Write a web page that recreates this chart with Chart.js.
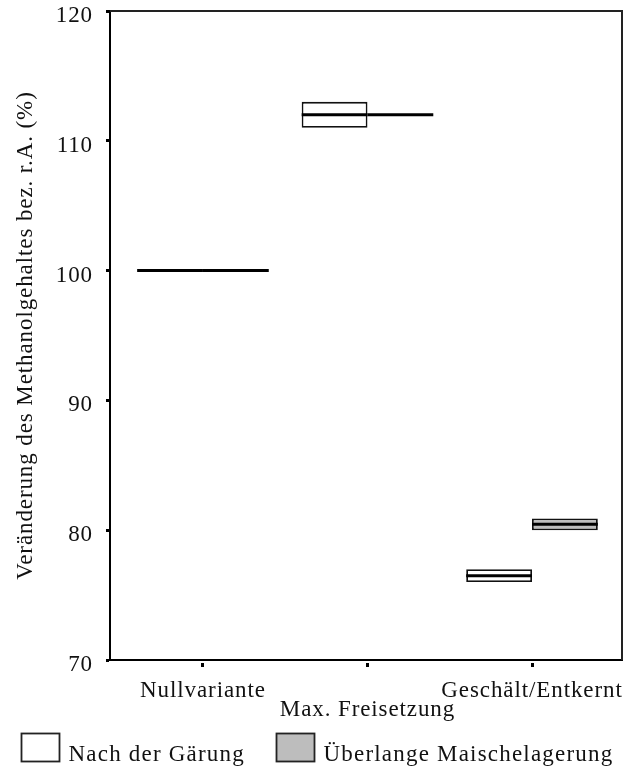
<!DOCTYPE html>
<html lang="de">
<head>
<meta charset="utf-8">
<title>Veränderung des Methanolgehaltes</title>
<script src="https://cdn.jsdelivr.net/npm/chart.js@4/dist/chart.umd.min.js"></script>
<style>
  html, body { margin: 0; padding: 0; background: #fff; }
  canvas { display: block; }
</style>
</head>
<body>
<canvas id="chart" width="624" height="769"></canvas>
<script>
// Versuchsvarianten (x-Achse)
const categories = ['Nullvariante', 'Max. Freisetzung', 'Geschält/Entkernt'];
// Beschriftung der Kategorien; die mittlere steht eine Zeile tiefer
const tickLabels = ['Nullvariante', ['', 'Max. Freisetzung'], 'Geschält/Entkernt'];
const seriesNames = ['Nach der Gärung', 'Überlange Maischelagerung'];

// Box-Grenzen und Mediane (% bezogen auf r.A.)
const gaerungLow = [100, 111, 76];
const gaerungHigh = [100, 113, 77];
const gaerungMedian = [100, 112, 76.5];
const maischeLow = [100, 112, 80];
const maischeHigh = [100, 112, 80.9];
const maischeMedian = [100, 112, 80.45];

const yMin = 70;
const yMax = 120;
const yStep = 10;

const toBoxes = (low, high) => categories.map((c, i) => ({ x: i, y: [low[i], high[i]] }));

const serif = "'Liberation Serif', 'Times New Roman', serif";
const textSize = 23;
Chart.defaults.font.family = serif;
Chart.defaults.font.size = textSize;
Chart.defaults.color = '#111';

// etwas breitere Laufweite für alle Texte
const spacingPlugin = {
  id: 'spacing',
  beforeUpdate(chart) { chart.ctx.letterSpacing = '0.9px'; },
  beforeDraw(chart) { chart.ctx.letterSpacing = '0.9px'; }
};

// Medianlinien über jeder Box
const medianPlugin = {
  id: 'medians',
  afterDatasetsDraw(chart) {
    const ctx = chart.ctx;
    const yScale = chart.scales.y;
    ctx.save();
    ctx.strokeStyle = '#000';
    ctx.lineWidth = 3;
    ctx.lineCap = 'butt';
    chart.data.datasets.forEach((ds, d) => {
      const meta = chart.getDatasetMeta(d);
      meta.data.forEach((el, i) => {
        const { x, width } = el.getProps(['x', 'width'], true);
        const y = yScale.getPixelForValue(ds.medians[i]);
        ctx.beginPath();
        ctx.moveTo(x - width / 2, y);
        ctx.lineTo(x + width / 2, y);
        ctx.stroke();
      });
    });
    ctx.restore();
  }
};

// Rahmen oben und rechts
const framePlugin = {
  id: 'frame',
  afterDraw(chart) {
    const { ctx, chartArea: a } = chart;
    ctx.save();
    ctx.strokeStyle = '#222';
    ctx.lineWidth = 2;
    ctx.beginPath();
    ctx.moveTo(a.left, a.top);
    ctx.lineTo(a.right, a.top);
    ctx.lineTo(a.right, a.bottom);
    ctx.stroke();
    ctx.restore();
  }
};

// Legende unter dem Diagramm
const legendPlugin = {
  id: 'boxLegend',
  afterDraw(chart) {
    const ctx = chart.ctx;
    const boxLeft = [21.5, 276.5];
    const boxTop = 733.5, boxW = 38, boxH = 28;
    ctx.save();
    ctx.font = textSize + 'px ' + serif;
    ctx.letterSpacing = '1.2px';
    ctx.textBaseline = 'alphabetic';
    ctx.textAlign = 'left';
    chart.data.datasets.forEach((ds, d) => {
      ctx.fillStyle = ds.backgroundColor;
      ctx.fillRect(boxLeft[d], boxTop, boxW, boxH);
      ctx.strokeStyle = '#222';
      ctx.lineWidth = 1.8;
      ctx.strokeRect(boxLeft[d], boxTop, boxW, boxH);
      ctx.fillStyle = '#111';
      ctx.fillText(ds.label, boxLeft[d] + 47, 761);
    });
    ctx.restore();
  }
};

new Chart(document.getElementById('chart'), {
  type: 'bar',
  data: {
    datasets: [
      {
        label: seriesNames[0],
        data: toBoxes(gaerungLow, gaerungHigh),
        medians: gaerungMedian,
        backgroundColor: '#ffffff',
        borderColor: '#111',
        borderWidth: 1.8,
        borderSkipped: false
      },
      {
        label: seriesNames[1],
        data: toBoxes(maischeLow, maischeHigh),
        medians: maischeMedian,
        backgroundColor: '#bdbdbd',
        borderColor: '#111',
        borderWidth: 1.8,
        borderSkipped: false
      }
    ]
  },
  options: {
    responsive: false,
    animation: false,
    devicePixelRatio: 1,
    categoryPercentage: 0.8,
    barPercentage: 1,
    layout: { padding: { top: 11, right: 2, bottom: 0, left: 0 } },
    plugins: {
      legend: { display: false },
      tooltip: { enabled: false }
    },
    scales: {
      x: {
        type: 'linear',
        offset: false,
        min: -0.565,
        max: 2.547,
        afterBuildTicks(scale) {
          scale.ticks = categories.map((c, i) => ({ value: i }));
        },
        afterFit(scale) {
          scale.height = 109;
          scale.paddingLeft = 0;
          scale.paddingRight = 0;
        },
        grid: {
          offset: false,
          drawOnChartArea: false,
          drawTicks: true,
          tickLength: 8,
          tickWidth: 3,
          tickColor: '#000',
          tickBorderDash: [0, 2, 4, 100]
        },
        border: { display: true, color: '#000', width: 2 },
        ticks: {
          autoSkip: false,
          maxRotation: 0,
          minRotation: 0,
          padding: 13,
          font: { size: textSize, lineHeight: 0.83 },
          color: '#111',
          callback: (value, index) => tickLabels[index]
        }
      },
      y: {
        min: yMin,
        max: yMax,
        beginAtZero: false,
        afterFit(scale) {
          scale.width = 110;
          scale.paddingTop = 0;
          scale.paddingBottom = 0;
        },
        grid: {
          drawOnChartArea: false,
          drawTicks: true,
          tickLength: 4,
          tickWidth: 3,
          tickColor: '#000'
        },
        border: { display: true, color: '#000', width: 2 },
        ticks: {
          stepSize: yStep,
          padding: 13,
          labelOffset: 5,
          font: { size: textSize, lineHeight: 1 },
          color: '#111'
        },
        title: {
          display: true,
          text: 'Veränderung des Methanolgehaltes bez. r.A. (%)',
          font: { size: textSize },
          color: '#111',
          padding: { top: 12, bottom: 0 }
        }
      }
    }
  },
  plugins: [spacingPlugin, medianPlugin, framePlugin, legendPlugin]
});
</script>
</body>
</html>
